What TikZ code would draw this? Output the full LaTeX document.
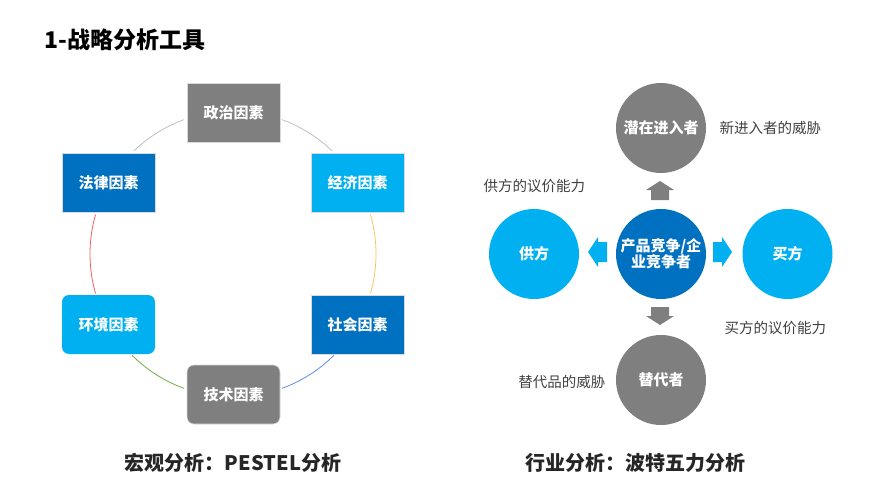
\documentclass[tikz,border=0pt]{standalone}
\usepackage{fontspec}
\setmainfont{Noto Sans CJK SC}
\usetikzlibrary{positioning}
\definecolor{pptGray}{RGB}{127, 127, 127}
\definecolor{pptBlue}{RGB}{0, 112, 192}
\definecolor{pptSky}{RGB}{0, 176, 240}
\definecolor{labelText}{RGB}{64, 64, 64}
\definecolor{arcGray}{RGB}{190, 190, 190}
\definecolor{arcOrange}{RGB}{250, 195, 95}
\definecolor{arcBlue}{RGB}{95, 140, 235}
\definecolor{arcGreen}{RGB}{112, 173, 71}
\definecolor{arcRed}{RGB}{240, 95, 95}

\begin{document}
\begin{tikzpicture}[
        x=1pt,
        y=-1pt,
        boxBase/.style={
            minimum width=93pt,
            minimum height=59pt,
            inner sep=0pt,
            draw=white!85!black,
            line width=0.6pt,
            text=white,
            font=\fontsize{15}{18}\selectfont\bfseries
        },
        boxGray/.style={boxBase, fill=pptGray},
        boxBlue/.style={boxBase, fill=pptBlue},
        boxSky/.style={boxBase, fill=pptSky},
        ballBase/.style={
            circle,
            minimum size=90pt,
            inner sep=0pt,
            align=center,
            text=white,
            font=\fontsize{15}{18}\selectfont\bfseries
        },
        ballGray/.style={ballBase, fill=pptGray},
        ballBlue/.style={ballBase, fill=pptBlue},
        ballSky/.style={ballBase, fill=pptSky},
        arcLine/.style={line width=0.8pt},
        sideText/.style={text=labelText, font=\fontsize{14.5}{17}\selectfont}
    ]
        \useasboundingbox (0,0) rectangle (881,495);

        \node[anchor=west, font=\fontsize{23}{27}\selectfont\bfseries] (title) at (41,40)
            {1-战略分析工具};

        % PESTEL ring
        \coordinate (ring) at (233,254);
        \foreach \from/\to/\col in {-70/-46/arcGray, -16/16/arcOrange, 45/70/arcBlue,
                                    110/135/arcGreen, 164/196/arcRed, 226/250/arcGray} {
            \draw[arcLine, \col] (ring) ++(\from:143) arc[start angle=\from, end angle=\to, radius=143];
        }

        \node[boxGray] (politic) at (233.5,113) {政治因素};
        \node[boxSky] (economy) at (357.5,182.5) {经济因素};
        \node[boxBlue] (society) at (357.5,324.5) {社会因素};
        \node[boxGray, rounded corners=7pt] (technology) at (233.5,394.5) {技术因素};
        \node[boxSky, rounded corners=7pt, draw=none] (environment) at (108.5,324.5) {环境因素};
        \node[boxBlue] (legal) at (108.5,182.5) {法律因素};

        \node[font=\fontsize{20}{24}\selectfont\bfseries, text=black!85] (pestel) at (233,463)
            {宏观分析：PESTEL分析};

        % five forces
        \node[ballBlue] (rival) at (661,254) {产品竞争/企\\[-2pt]业竞争者};
        \node[ballGray] (entrant) at (661,128) {潜在进入者};
        \node[ballGray] (substitute) at (661,380) {替代者};
        \node[ballSky] (supplier) at (534,254) {供方};
        \node[ballSky] (buyer) at (787.5,254) {买方};

        % block arrows
        \fill[pptGray] (660,181) -- (674,190) -- (669,190) -- (669,200)
            -- (651,200) -- (651,190) -- (646,190) -- cycle;
        \fill[pptGray] (660,325) -- (674,316) -- (669,316) -- (669,307)
            -- (651,307) -- (651,316) -- (646,316) -- cycle;
        \fill[pptSky] (588,252) -- (598,237) -- (598,242) -- (607,242)
            -- (607,262) -- (598,262) -- (598,267) -- cycle;
        \fill[pptSky] (732,252) -- (722,237) -- (722,242) -- (713,242)
            -- (713,262) -- (722,262) -- (722,267) -- cycle;

        \node[sideText, anchor=west] (entrantNote) at (716,128) {新进入者的威胁};
        \node[sideText, anchor=west] (supplierNote) at (480,186) {供方的议价能力};
        \node[sideText, anchor=west] (buyerNote) at (721,328) {买方的议价能力};
        \node[sideText, anchor=east] (substituteNote) at (609,382) {替代品的威胁};

        \node[font=\fontsize{20}{24}\selectfont\bfseries, text=black!85] (porter) at (635,463)
            {行业分析：波特五力分析};
    \end{tikzpicture}
\end{document}
